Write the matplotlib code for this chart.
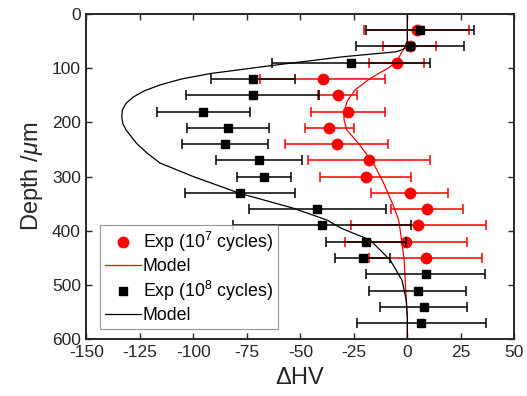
import matplotlib
matplotlib.use("Agg")
import matplotlib.pyplot as plt
from matplotlib.lines import Line2D

plt.rcParams['font.family'] = ['Liberation Sans', 'DejaVu Sans']
plt.rcParams['mathtext.fontset'] = 'custom'
plt.rcParams['mathtext.rm'] = 'Liberation Sans'
plt.rcParams['mathtext.it'] = 'Liberation Sans:italic'
plt.rcParams['mathtext.bf'] = 'Liberation Sans:bold'
plt.rcParams['axes.unicode_minus'] = False

# Measured hardness change, 10^7 cycles
depth_1e7 = [30, 60, 90, 120, 150, 180, 210, 240, 270, 300, 330, 360, 390, 420, 450]
dhv_1e7 = [4.3, 1.0, -5.0, -39.6, -32.6, -27.8, -36.4, -33.1, -17.9, -19.5, 1.1, 9.2, 5.2, -0.6, 8.6]
err_1e7 = [24.7, 12.5, 13.0, 29.2, 9.2, 17.3, 11.6, 24.1, 28.6, 21.4, 18.0, 17.0, 31.7, 28.6, 26.4]

# Measured hardness change, 10^8 cycles
depth_1e8 = [30, 60, 90, 120, 150, 180, 210, 240, 270, 300, 330, 360, 390, 420, 450,
             480, 510, 540, 570]
dhv_1e8 = [5.9, 1.3, -26.3, -72.2, -72.3, -95.3, -83.9, -85.3, -69.3, -67.0, -78.1,
           -42.1, -39.8, -19.2, -20.9, 8.6, 4.9, 7.6, 6.6]
err_1e8 = [25.1, 25.3, 37.0, 19.7, 31.2, 21.8, 19.3, 20.2, 20.1, 12.4, 25.7, 31.9,
           41.6, 18.7, 13.0, 27.8, 22.6, 20.3, 30.2]

# Model profiles (depth, ΔHV)
model_1e7_depth = [0, 50, 60, 70, 88, 100, 119, 140, 160, 180, 195, 214, 239, 276,
                   312, 355, 380, 400, 454, 528, 560, 600]
model_1e7_dhv = [0, 0, -0.8, -2.5, -5.0, -9.0, -17.4, -24.4, -28.0, -29.6, -29.6,
                 -28.3, -22.8, -15.8, -11.1, -6.4, -4.1, -3.3, -1.5, -0.5, 0, 0]

model_1e8_depth = [0, 52, 60, 64, 67, 70, 79, 94, 110, 120, 131, 142, 153, 165, 177,
                   190, 202, 214, 239, 257, 275, 300, 331, 358, 380, 395, 417, 454,
                   491, 528, 560, 600]
model_1e8_dhv = [0, 0, -0.5, -1.5, -3.0, -5.5, -30.0, -61.0, -92.0, -105.5, -115.6,
                 -123.0, -128.0, -131.5, -133.2, -133.5, -133.0, -131.5, -126.5,
                 -121.5, -115.6, -100.0, -78.2, -53.5, -37.6, -31.0, -17.4, -8.0,
                 -2.5, -0.5, 0, 0]

x_ticks = [-150, -125, -100, -75, -50, -25, 0, 25, 50]
y_ticks = [0, 100, 200, 300, 400, 500, 600]
legend_labels = ['Exp (10$^7$ cycles)', 'Model', 'Exp (10$^8$ cycles)', 'Model']

fig = plt.figure(figsize=(5.27, 3.96), dpi=100)
ax = fig.add_axes([0.164, 0.143, 0.812, 0.822])

ax.errorbar(dhv_1e7, depth_1e7, xerr=err_1e7, fmt='o', color='red', ms=7.5,
            elinewidth=1.1, capsize=3.5, capthick=1.1, zorder=3)
ax.plot(model_1e7_dhv, model_1e7_depth, '-', color='red', lw=0.9, zorder=2)
ax.errorbar(dhv_1e8, depth_1e8, xerr=err_1e8, fmt='s', color='black', ms=6,
            elinewidth=1.1, capsize=3.5, capthick=1.1, zorder=4)
ax.plot(model_1e8_dhv, model_1e8_depth, '-', color='black', lw=0.9, zorder=2)

ax.set_xlim(-150, 50)
ax.set_ylim(600, 0)
ax.set_xticks(x_ticks)
ax.set_yticks(y_ticks)
ax.tick_params(direction='in', length=4, width=1.0, top=True, right=True,
               labelsize=12.5, colors='#262626', pad=4)
for sp in ax.spines.values():
    sp.set_linewidth(1.4)
    sp.set_color('#262626')

ax.set_xlabel(r'$\Delta$HV', fontsize=17, color='#262626', labelpad=5)
ax.set_ylabel(r'Depth /$\mu$m', fontsize=17, color='#262626', labelpad=5)

handles = [
    Line2D([], [], ls='none', marker='o', color='red', ms=7.5),
    Line2D([], [], ls='-', color='red', lw=0.9),
    Line2D([], [], ls='none', marker='s', color='black', ms=6),
    Line2D([], [], ls='-', color='black', lw=0.9),
]
leg = ax.legend(handles, legend_labels, loc='lower left',
                bbox_to_anchor=(0.0316, 0.0307), borderaxespad=0,
                fontsize=12.8, frameon=True, fancybox=False, edgecolor='#7f7f7f',
                handlelength=2.0, handletextpad=0.1, labelspacing=0.22,
                borderpad=0.3, numpoints=1)
leg.get_frame().set_linewidth(0.8)

fig.savefig('out.png', dpi=100)
